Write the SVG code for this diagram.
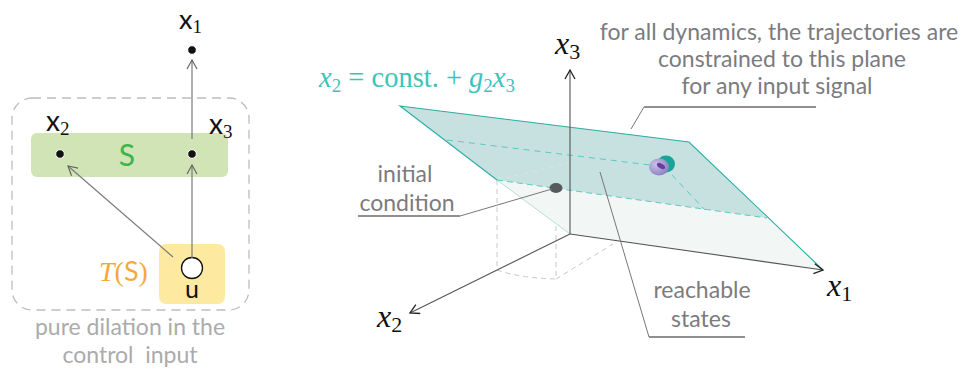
<svg xmlns="http://www.w3.org/2000/svg" width="961" height="372" viewBox="0 0 961 372">
<defs>
<style>
.lbl{font-family:Lato,"Open Sans","Liberation Sans",sans-serif;}
.math{font-family:"Liberation Serif","DejaVu Serif",serif;}
.conn{stroke:#7a7a7a;stroke-width:1.2;fill:none;}
.axis{stroke:#555;stroke-width:1.1;fill:none;}
.ann{font-family:Lato,"Open Sans","Liberation Sans",sans-serif;font-size:23px;fill:#7b7b80;text-anchor:middle;}
.gdash{stroke:#c8c8c8;stroke-width:1;stroke-dasharray:5,4;fill:none;}
</style>
<marker id="ah" markerUnits="userSpaceOnUse" markerWidth="14" markerHeight="14" refX="10" refY="6" orient="auto">
<path d="M1,1 L10,6 L1,11" fill="none" stroke="#666" stroke-width="1.2"/>
</marker>
<marker id="ahk" markerUnits="userSpaceOnUse" markerWidth="14" markerHeight="14" refX="10" refY="6" orient="auto">
<path d="M1,1 L10,6 L1,11" fill="none" stroke="#222" stroke-width="1.3"/>
</marker>
<radialGradient id="pg" cx="0.35" cy="0.35" r="0.7">
<stop offset="0" stop-color="#c9c2e6"/>
<stop offset="1" stop-color="#8b80c0"/>
</radialGradient>
</defs>
<rect width="961" height="372" fill="#fff"/>

<!-- LEFT DIAGRAM -->
<g id="container">
<rect x="12" y="98" width="237" height="212" rx="20" fill="none" stroke="#bdbdbd" stroke-width="1.3" stroke-dasharray="9,6"/>
<text class="lbl" x="130" y="335" font-size="23" fill="#ababab" text-anchor="middle">pure dilation in the</text>
<text class="lbl" x="130" y="363" font-size="23" fill="#ababab" text-anchor="middle" xml:space="preserve">control  input</text>
</g>
<g id="S">
<rect x="31" y="133" width="197" height="44" rx="6" fill="#d1e4b5"/>
<text class="lbl" x="127" y="166" font-size="30" fill="#3fb34f" text-anchor="middle">S</text>
</g>
<g id="x2node">
<circle cx="60" cy="154" r="4.3" fill="#111" stroke="#fff" stroke-width="1"/>
<text x="46" y="131"><tspan class="lbl" font-size="28" fill="#111">x</tspan><tspan class="math" font-size="19" fill="#111" dy="4">2</tspan></text>
</g>
<g id="x3node">
<circle cx="192" cy="154" r="4.3" fill="#111" stroke="#fff" stroke-width="1"/>
<text x="209" y="134"><tspan class="lbl" font-size="28" fill="#111">x</tspan><tspan class="math" font-size="19" fill="#111" dy="4">3</tspan></text>
</g>
<g id="x1node">
<circle cx="192" cy="50" r="4.3" fill="#111" stroke="#fff" stroke-width="1"/>
<text x="179" y="29"><tspan class="lbl" font-size="27" fill="#111">x</tspan><tspan class="math" font-size="19" fill="#111" dy="4">1</tspan></text>
</g>
<g id="T">
<rect x="159" y="244" width="66" height="60" rx="7" fill="#fde9a0"/>
<circle cx="192" cy="268" r="10.5" fill="#fff" stroke="#111" stroke-width="1.3"/>
<text class="lbl" x="192" y="298" font-size="25" fill="#111" text-anchor="middle">u</text>
<text x="99" y="281" fill="#f6a93b"><tspan class="math" font-style="italic" font-size="28">T</tspan><tspan class="math" font-size="28">(</tspan><tspan class="lbl" font-size="27">S</tspan><tspan class="math" font-size="28">)</tspan></text>
</g>
<g id="connectors">
<line class="conn" x1="192" y1="258" x2="192" y2="165" marker-end="url(#ah)"/>
<line class="conn" x1="173" y1="257" x2="68" y2="166" marker-end="url(#ah)"/>
<line class="conn" x1="192" y1="139" x2="192" y2="60" marker-end="url(#ah)"/>
</g>

<!-- RIGHT: 3D plot -->
<g id="plot">
<line class="gdash" x1="497" y1="180" x2="497" y2="270"/>
<line class="gdash" x1="556" y1="190" x2="556" y2="279" stroke="#b5b5b5"/>
<path class="gdash" d="M497,270 Q520,278 556,279" stroke="#e2e2e2"/>
<line class="gdash" x1="556" y1="279" x2="613" y2="244" stroke="#e6e6e6"/>
<polygon points="497,180 767,218 823,270 570,234" fill="#f2f7f6"/>
<polygon points="400,106 689,142 767,218 497,180" fill="#c6e1df"/>
<line x1="497" y1="180" x2="570" y2="163" stroke="#d8e6e4" stroke-width="1" stroke-dasharray="5,4"/>
<line x1="497" y1="180" x2="570" y2="234" stroke="#9fd9d4" stroke-width="0.8"/>
<polyline points="497,180 400,106 689,142 823,270" fill="none" stroke="#2aaca4" stroke-width="1.1"/>
<line x1="497" y1="180" x2="767" y2="218" stroke="#5ec9c1" stroke-width="1" stroke-dasharray="6,4"/>
<line x1="447" y1="140" x2="650" y2="165" stroke="#5ec9c1" stroke-width="1" stroke-dasharray="6,5"/>
<line x1="672" y1="175" x2="705" y2="210" stroke="#5ec9c1" stroke-width="1" stroke-dasharray="6,5"/>
<line class="axis" x1="570" y1="234" x2="570" y2="70" stroke="#222" marker-end="url(#ahk)"/>
<line class="axis" x1="570" y1="234" x2="410" y2="313" marker-end="url(#ahk)"/>
<line class="axis" x1="570" y1="234" x2="823" y2="270" marker-end="url(#ahk)"/>
<text class="math" x="555" y="54" font-size="32" font-style="italic" fill="#111">x<tspan font-style="normal" font-size="22" dy="5">3</tspan></text>
<text class="math" x="377" y="327" font-size="32" font-style="italic" fill="#111">x<tspan font-style="normal" font-size="22" dy="5">2</tspan></text>
<text class="math" x="827" y="296" font-size="32" font-style="italic" fill="#111">x<tspan font-style="normal" font-size="22" dy="5">1</tspan></text>
<text class="math" x="319" y="87" font-size="28.5" fill="#3cc3bb"><tspan font-style="italic">x</tspan><tspan font-size="19" dy="5">2</tspan><tspan dy="-5"> = const. + </tspan><tspan font-style="italic">g</tspan><tspan font-size="19" dy="5">2</tspan><tspan font-style="italic" dy="-5">x</tspan><tspan font-size="19" dy="5">3</tspan></text>
<ellipse cx="556" cy="188" rx="6.5" ry="5" fill="#555a5c"/>
<ellipse cx="666" cy="164" rx="9" ry="8.5" fill="#16a596"/>
<ellipse cx="659" cy="167" rx="10" ry="8.5" fill="url(#pg)"/>
<ellipse cx="661" cy="166" rx="4.5" ry="2.3" fill="#6a3ba4" transform="rotate(30 661 166)"/>
</g>

<g id="annotation-plane">
<text class="ann" x="779" y="40" font-size="22">for all dynamics, the trajectories are</text>
<text class="ann" x="782" y="67" font-size="22">constrained to this plane</text>
<text class="ann" x="777" y="94" font-size="22">for any input signal</text>
<line x1="644" y1="107" x2="816" y2="107" stroke="#222" stroke-width="1.2"/>
<line x1="644" y1="107" x2="631" y2="129" stroke="#777" stroke-width="1"/>
</g>
<g id="annotation-initial">
<text class="ann" x="405" y="182">initial</text>
<text class="ann" x="407" y="211">condition</text>
<line x1="358" y1="216" x2="460" y2="216" stroke="#222" stroke-width="1.2"/>
<line x1="460" y1="216" x2="552" y2="189" stroke="#777" stroke-width="1"/>
</g>
<g id="annotation-reachable">
<text class="ann" x="702" y="298">reachable</text>
<text class="ann" x="701" y="327">states</text>
<line x1="649" y1="337" x2="745" y2="337" stroke="#222" stroke-width="1.2"/>
<line x1="600" y1="172" x2="649" y2="337" stroke="#777" stroke-width="1"/>
</g>
</svg>
